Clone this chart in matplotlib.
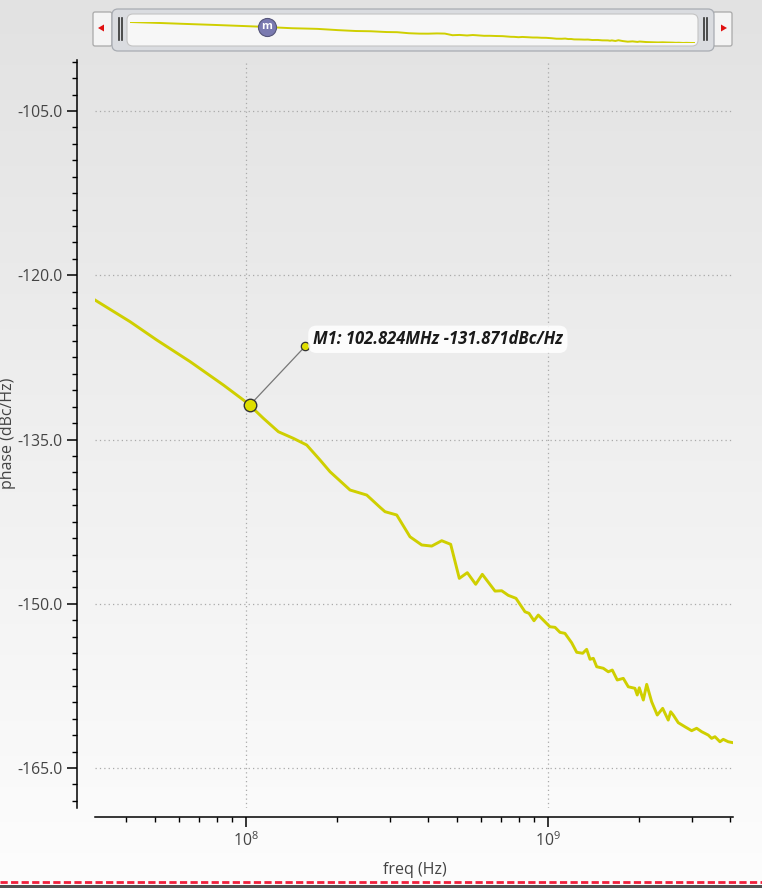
import matplotlib
matplotlib.use('Agg')
import matplotlib.pyplot as plt
import numpy as np
from matplotlib.patches import FancyBboxPatch, Polygon
from matplotlib.ticker import MultipleLocator, FormatStrFormatter, LogLocator
from matplotlib.transforms import offset_copy

plt.rcParams['font.family'] = ['Open Sans', 'DejaVu Sans']
plt.rcParams['mathtext.fontset'] = 'custom'
plt.rcParams['mathtext.rm'] = 'Open Sans'
plt.rcParams['mathtext.it'] = 'Open Sans:italic'

# frequency (MHz) and phase noise (dBc/Hz)
freq_mhz = [31.6, 41.3, 50.6, 65.3, 84.1, 98.0, 102.824, 114.1, 128.0, 143.4,
            158.8, 175.8, 189.7, 221.0, 251.0, 277.8, 288.6, 315.5, 349.1, 381.8,
            412.0, 444.6, 476.1, 508.5, 540.5, 576.2, 606.0, 667.7, 702.6, 738.8,
            783.4, 839.1, 865.2, 898.7, 928.7, 1015, 1055, 1096, 1138, 1198,
            1245, 1303, 1343, 1378, 1413, 1450, 1525, 1584, 1633, 1696,
            1776, 1845, 1941, 1975, 2006, 2069, 2123, 2205, 2301, 2398,
            2502, 2549, 2600, 2701, 2842, 2991, 3107, 3228, 3395, 3483,
            3573, 3711, 3806, 3954, 4108]
phase = [-122.26, -124.24, -125.91, -127.89, -130.02, -131.39, -131.871, -133.06, -134.29, -134.89,
         -135.50, -136.87, -137.94, -139.61, -140.07, -141.19, -141.59, -141.89, -143.88, -144.63,
         -144.73, -144.24, -144.57, -147.68, -147.16, -148.22, -147.31, -148.84, -148.81, -149.23,
         -149.50, -150.73, -150.87, -151.55, -151.03, -152.10, -152.15, -152.61, -152.70, -153.56,
         -154.43, -154.52, -154.16, -155.07, -154.98, -155.75, -155.89, -156.21, -156.05, -156.96,
         -156.81, -157.58, -157.72, -158.33, -157.67, -158.79, -157.36, -158.95, -160.16, -159.55,
         -160.62, -159.86, -160.16, -160.86, -161.23, -161.59, -161.37, -161.68, -161.99, -162.29,
         -162.14, -162.60, -162.38, -162.60, -162.69]
freq = np.array(freq_mhz) * 1e6
phase = np.array(phase)

m1_freq = 102.824e6
m1_val = -131.871
m1_label = 'M1: 102.824MHz -131.871dBc/Hz'

line_col = '#cfcf00'
W, H = 762, 888

fig = plt.figure(figsize=(W / 100, H / 100), dpi=100)

# background gradient
bg = fig.add_axes([0, 0, 1, 1], zorder=0)
grad = np.linspace(0, 1, 256).reshape(-1, 1)
bg.imshow(grad, aspect='auto', cmap=matplotlib.colors.LinearSegmentedColormap.from_list(
    'g', ['#e2e2e2', '#fdfdfd']), extent=[0, 1, 0, 1], origin='upper')
bg.axis('off')

def px(l, t, r, b):
    return [l / W, 1 - b / H, (r - l) / W, (b - t) / H]

# main plot
ax = fig.add_axes(px(95, 60, 733, 808), zorder=2)
ax.patch.set_alpha(0)
ax.plot(freq, phase, color=line_col, lw=2.1, zorder=3)
ax.set_xscale('log')
ax.set_xlim(3.16e7, 4.1e9)
ax.set_ylim(-168.65, -100.34)

for s in ['top', 'right']:
    ax.spines[s].set_visible(False)
ax.spines['left'].set_position(('outward', 13))
ax.spines['bottom'].set_position(('outward', 6.5))
ax.spines['left'].set_linewidth(1.1)
ax.spines['bottom'].set_linewidth(1.1)

ax.yaxis.set_major_locator(MultipleLocator(15))
ax.yaxis.set_minor_locator(MultipleLocator(1.5))
ax.yaxis.set_major_formatter(FormatStrFormatter('%.1f'))
ax.xaxis.set_major_locator(LogLocator(base=10))
ax.xaxis.set_minor_locator(LogLocator(base=10, subs=np.arange(2, 10)))
ax.tick_params(which='major', length=7, width=1.1, colors='black', labelcolor='#444444', labelsize=11.3)
ax.tick_params(which='minor', length=3.5, width=1.0, colors='black')
ax.grid(True, which='major', color='#aaaaaa', linestyle=(0, (1, 2.5)), linewidth=0.9)

ax.set_ylabel('phase (dBc/Hz)', fontsize=11.5, color='#444444')
ax.set_xlabel('freq (Hz)', fontsize=11.5, color='#444444')
ax.yaxis.set_label_coords(-0.1245, 0.501)
ax.xaxis.set_label_coords(0.5016, -0.072)

# marker M1
tip = offset_copy(ax.transData, fig=fig, x=40, y=42.5, units='points')
ax.annotate('', xy=(m1_freq, m1_val), xytext=(40, 42.5), textcoords='offset points',
            arrowprops=dict(arrowstyle='-', color='#777777', lw=0.9, shrinkA=0, shrinkB=0), zorder=4)
ax.plot([m1_freq], [m1_val], 'o', ms=9, mfc='#dede00', mec='#333333', mew=1.0, zorder=5)
ax.plot([m1_freq], [m1_val], 'o', ms=6, mfc='#dede00', mec='#333333', mew=0.9, zorder=5, transform=tip)
ax.annotate(m1_label, xy=(m1_freq, m1_val), xytext=(45.5, 47.5), textcoords='offset points',
            ha='left', va='center', fontsize=12, fontweight='bold', fontstyle='italic',
            family=['Open Sans', 'DejaVu Sans'], color='#1a1a1a', zorder=6,
            bbox=dict(boxstyle='round,pad=0.28,rounding_size=0.5', fc='white', ec='none', alpha=0.85))

# overlay for slider and bottom bar
ov = fig.add_axes([0, 0, 1, 1], zorder=3)
ov.set_xlim(0, W)
ov.set_ylim(H, 0)
ov.axis('off')
ov.patch.set_alpha(0)

for x0 in (93, 713):
    ov.add_patch(FancyBboxPatch((x0, 12), 19, 34, boxstyle='round,pad=0,rounding_size=2',
                                fc='#f4f4f4', ec='#a8a8a8', lw=0.9))
ov.add_patch(Polygon([[98, 28], [104, 24.5], [104, 31.5]], closed=True, fc='#e01010', ec='none'))
ov.add_patch(Polygon([[727, 28], [721, 24.5], [721, 31.5]], closed=True, fc='#e01010', ec='none'))
ov.add_patch(FancyBboxPatch((112, 9), 602, 42, boxstyle='round,pad=0,rounding_size=6',
                            fc='#dadce0', ec='#a8acb2', lw=0.9))
ov.add_patch(FancyBboxPatch((127, 14), 571, 32, boxstyle='round,pad=0,rounding_size=6',
                            fc='#f7f7f7', ec='#c4c4c4', lw=0.8))
for xh in (118.5, 121.5, 703.5, 706.5):
    ov.plot([xh, xh], [18, 40], color='#333333', lw=1.2)

# overview line inside slider
ovl = fig.add_axes(px(130, 22, 695, 43), zorder=4)
ovl.plot(freq, phase, color=line_col, lw=1.4)
ovl.set_xscale('log')
ovl.set_xlim(freq.min(), freq.max())
ovl.set_ylim(phase.min(), phase.max())
ovl.axis('off')
ovl.patch.set_alpha(0)
ovl.plot([m1_freq], [m1_val], 'o', ms=13, mfc='#7a7ab0', mec='#55557a', mew=0.8, clip_on=False)
ovl.text(m1_freq, m1_val, 'm', ha='center', va='center', fontsize=8, color='white',
         fontweight='bold', clip_on=False)

# bottom red dashed line and dark strip
ov.plot([0, W], [882, 882], color='#f0203c', lw=2.0, linestyle=(0, (2.6, 1.2)))
ov.add_patch(plt.Rectangle((0, 884.5), W, 3.5, fc='#505050', ec='none'))

fig.savefig('out.png', dpi=100)
